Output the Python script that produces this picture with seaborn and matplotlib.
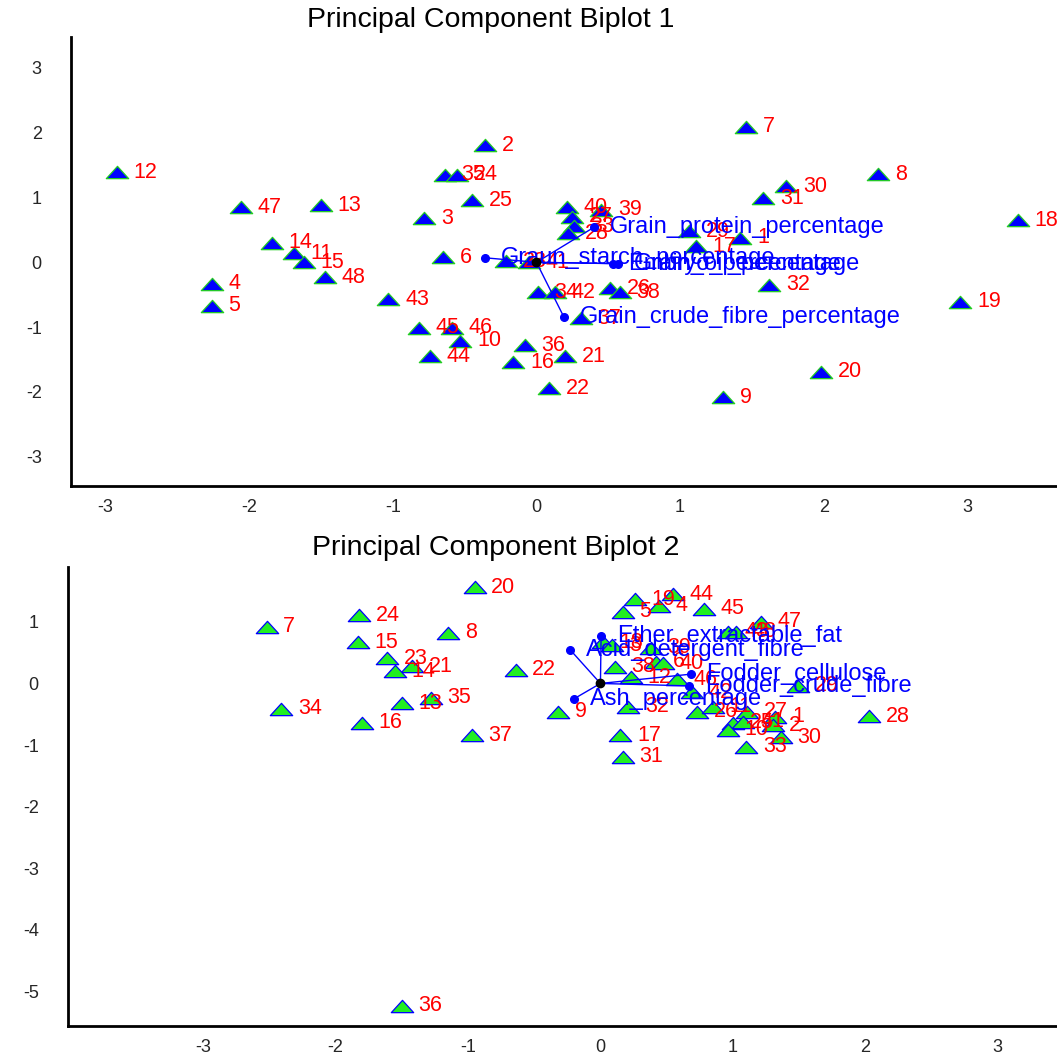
import matplotlib
matplotlib.use("Agg")
import matplotlib.pyplot as plt
import seaborn as sns
import pandas as pd
from matplotlib.path import Path
from matplotlib.markers import MarkerStyle

# ---------------- Biplot 1 data ----------------
ids1 = [12, 47, 13, 14, 11, 15, 48, 4, 5, 43, 45, 46, 10, 44, 36, 16, 21, 22,
        6, 3, 25, 2, 35, 24, 23, 41, 34, 42, 26, 38, 37, 40, 39, 27, 33, 28,
        29, 17, 1, 31, 30, 32, 7, 8, 18, 19, 20, 9]
pc1_x = [-2.92, -2.06, -1.50, -1.84, -1.69, -1.62, -1.47, -2.26, -2.26, -1.03,
         -0.82, -0.59, -0.53, -0.74, -0.08, -0.16, 0.20, 0.09,
         -0.65, -0.78, -0.45, -0.36, -0.64, -0.55, -0.21, -0.05, 0.01, 0.13,
         0.51, 0.58, 0.31, 0.21, 0.45, 0.25, 0.26, 0.22,
         1.06, 1.11, 1.42, 1.58, 1.74, 1.62, 1.46, 2.38, 3.35, 2.95, 1.98, 1.30]
pc1_y = [1.39, 0.85, 0.88, 0.30, 0.14, 0.00, -0.23, -0.33, -0.67, -0.57,
         -1.01, -1.01, -1.21, -1.45, -1.28, -1.54, -1.45, -1.94,
         0.08, 0.68, 0.96, 1.81, 1.35, 1.35, 0.02, 0.00, -0.46, -0.46,
         -0.40, -0.46, -0.86, 0.85, 0.81, 0.70, 0.56, 0.45,
         0.48, 0.25, 0.38, 0.99, 1.17, -0.35, 2.09, 1.36, 0.65, -0.61, -1.69, -2.08]
vars1 = ["Graun_starch_percentage", "Grain_protein_percentage",
         "Embryo_percentage", "Grain_oil_percentage", "Grain_crude_fibre_percentage"]
vec1_x = [-0.36, 0.40, 0.53, 0.57, 0.19]
vec1_y = [0.07, 0.54, -0.02, -0.02, -0.84]

# ---------------- Biplot 2 data ----------------
ids2 = [20, 24, 7, 8, 15, 23, 21, 14, 22, 35, 13, 34, 16, 37, 9, 36,
        44, 19, 4, 5, 45, 47, 43, 48, 18, 3, 39, 38, 6, 40, 12, 46, 42, 29,
        32, 26, 11, 27, 1, 25, 41, 2, 10, 30, 33, 28, 17, 31]
pc2_x = [-0.95, -1.82, -2.52, -1.15, -1.83, -1.61, -1.42, -1.55, -0.64, -1.28,
         -1.50, -2.41, -1.80, -0.97, -0.32, -1.50,
         0.55, 0.26, 0.44, 0.17, 0.78, 1.21, 0.96, 1.02, 0.02, 0.09, 0.38,
         0.11, 0.42, 0.47, 0.23, 0.58, 0.69, 1.49,
         0.21, 0.73, 0.85, 1.11, 1.32, 1.00, 1.08, 1.30, 0.96, 1.36, 1.10,
         2.03, 0.15, 0.17]
pc2_y = [1.56, 1.11, 0.92, 0.82, 0.67, 0.41, 0.28, 0.20, 0.22, -0.23,
         -0.32, -0.41, -0.64, -0.84, -0.46, -5.23,
         1.45, 1.37, 1.26, 1.16, 1.21, 1.00, 0.84, 0.84, 0.67, 0.62, 0.58,
         0.27, 0.35, 0.33, 0.10, 0.07, -0.14, -0.04,
         -0.38, -0.46, -0.38, -0.46, -0.54, -0.64, -0.62, -0.68, -0.75, -0.87,
         -1.03, -0.53, -0.84, -1.19]
vars2 = ["Ether_extractable_fat", "Acid_detergent_fibre", "Fodder_cellulose",
         "Fodder_crude_fibre", "Ash_percentage"]
vec2_x = [0.005, -0.23, 0.68, 0.67, -0.20]
vec2_y = [0.77, 0.55, 0.15, -0.04, -0.25]

titles = ["Principal Component Biplot 1", "Principal Component Biplot 2"]
xticks1 = [-3, -2, -1, 0, 1, 2, 3]
yticks1 = [-3, -2, -1, 0, 1, 2, 3]
xticks2 = [-3, -2, -1, 0, 1, 2, 3]
yticks2 = [-5, -4, -3, -2, -1, 0, 1]

sns.set_style("white")
plt.rcParams["font.family"] = ["Liberation Sans", "DejaVu Sans"]

W, H = 1057, 1055
fig = plt.figure(figsize=(W / 100, H / 100), dpi=100)

def px_axes(left, top, right, bottom):
    return [left / W, 1 - bottom / H, (right - left) / W, (bottom - top) / H]

ax1 = fig.add_axes(px_axes(71, 37, 1068, 486))
ax2 = fig.add_axes(px_axes(68, 567, 1064, 1026))

tri = MarkerStyle(Path([(-1, -0.55), (1, -0.55), (0, 0.55), (-1, -0.55)],
                       [Path.MOVETO, Path.LINETO, Path.LINETO, Path.CLOSEPOLY]))

def draw(ax, ids, xs, ys, vnames, vx, vy, face, edge, xlim, ylim, xt, yt):
    df = pd.DataFrame({"x": xs, "y": ys, "id": ids})
    sns.scatterplot(data=df, x="x", y="y", ax=ax, marker=tri, s=260,
                    color=face, edgecolor=edge, linewidth=0.9, zorder=3,
                    legend=False)
    for i, x, y in zip(ids, xs, ys):
        ax.annotate(str(i), (x, y), xytext=(12, 0), textcoords="offset points",
                    ha="left", va="center", color="#ff0000", fontsize=15.5,
                    zorder=4)
    for name, x, y in zip(vnames, vx, vy):
        ax.plot([0, x], [0, y], color="#0000ff", lw=1.0, zorder=5)
        ax.plot([x], [y], "o", color="#0000ff", ms=5.5, zorder=5)
        ax.annotate(name, (x, y), xytext=(11.5, 0), textcoords="offset points",
                    ha="left", va="center", color="#0000ff", fontsize=17,
                    zorder=6)
    ax.plot([0], [0], "o", color="black", ms=6, zorder=6)
    ax.set_xlim(*xlim)
    ax.set_ylim(*ylim)
    ax.set_xticks(xt)
    ax.set_yticks(yt)
    ax.set_xticklabels([str(v) for v in xt])
    ax.set_yticklabels([str(v) for v in yt])
    ax.set_xlabel("")
    ax.set_ylabel("")
    for s in ["top", "right"]:
        ax.spines[s].set_visible(False)
    for s in ["left", "bottom"]:
        ax.spines[s].set_linewidth(2.0)
        ax.spines[s].set_color("black")
    ax.tick_params(axis="y", direction="out", length=12, width=1.5,
                   color="#333333", pad=9, labelsize=13)
    ax.tick_params(axis="x", direction="out", length=7.5, width=1.5,
                   color="#333333", pad=1.5, labelsize=13)
    ax.set_facecolor("white")

draw(ax1, ids1, pc1_x, pc1_y, vars1, vec1_x, vec1_y,
     "#0000ff", "#22cc22", (-3.24, 3.7), (-3.452, 3.477), xticks1, yticks1)
draw(ax2, ids2, pc2_x, pc2_y, vars2, vec2_x, vec2_y,
     "#22ee22", "#0000ff", (-4.02, 3.5), (-5.56, 1.89), xticks2, yticks2)

fig.text(491 / W, 1 - 20 / H, titles[0], ha="center", va="center",
         fontsize=20.5, color="black")
fig.text(496 / W, 1 - 548 / H, titles[1], ha="center", va="center",
         fontsize=20.5, color="black")

fig.savefig("out.png", dpi=100)
